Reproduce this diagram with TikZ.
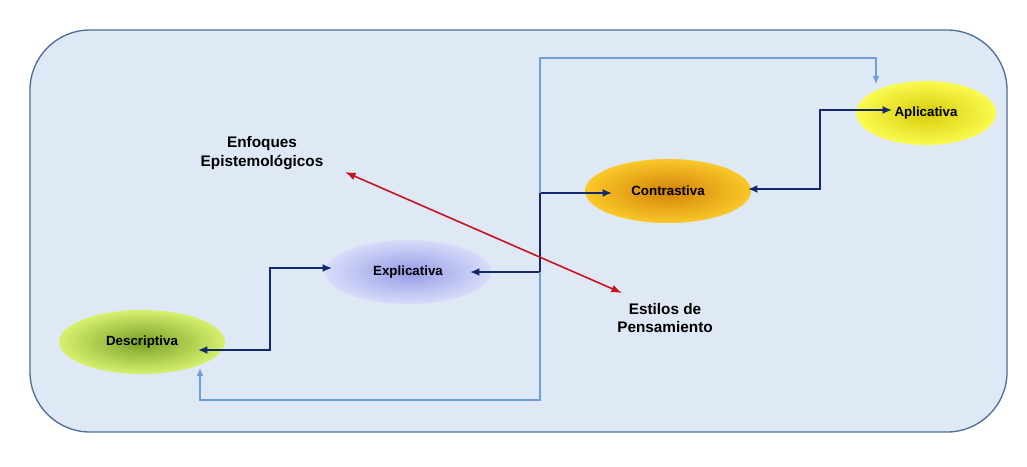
\documentclass[tikz,border=0pt]{standalone}
\usepackage{fontspec}
\setmainfont{Liberation Sans}
\usetikzlibrary{arrows.meta,shapes.geometric}
\begin{document}
\begin{tikzpicture}[x=0.75pt,y=-0.75pt,
 el/.style={ellipse,minimum width=166pt*0.75,minimum height=64pt*0.75,font=\bfseries\fontsize{10}{12}\selectfont,inner sep=0pt},
 conn/.style={draw={rgb,255:red,20;green,40;blue,110},line width=1.4pt,{Latex[length=7pt,width=6pt]}-{Latex[length=7pt,width=6pt]}},
 thin/.style={draw={rgb,255:red,110;green,160;blue,215},line width=0.9pt},
 lbl/.style={font=\bfseries\fontsize{11.5}{14}\selectfont,align=center}]
\useasboundingbox (0,0) rectangle (1027,467);
\draw[fill={rgb,255:red,222;green,233;blue,245},draw={rgb,255:red,80;green,110;blue,150},line width=1pt,rounded corners=45pt] (30,30) rectangle (1007,432);
\node[el,shading=radial,inner color={rgb,255:red,120;green,160;blue,40},outer color={rgb,255:red,215;green,240;blue,110}] (des) at (142,342) {Descriptiva};
\node[el,shading=radial,inner color={rgb,255:red,150;green,155;blue,230},outer color={rgb,255:red,215;green,220;blue,250}] (exp) at (408,272) {Explicativa};
\node[el,shading=radial,inner color={rgb,255:red,210;green,130;blue,10},outer color={rgb,255:red,250;green,200;blue,40}] (con) at (668,191) {Contrastiva};
\node[el,minimum width=140pt*0.75,shading=radial,inner color={rgb,255:red,215;green,205;blue,10},outer color={rgb,255:red,250;green,250;blue,80}] (apl) at (926,113) {Aplicativa};
\coordinate (e1) at (198,350);
\coordinate (e2) at (332,268);
\coordinate (e3) at (470,272);
\coordinate (e4) at (612,193);
\coordinate (e5) at (748,189);
\coordinate (e6) at (892,110);
\coordinate (j1) at (270,310);
\coordinate (j2) at (540,232);
\coordinate (j3) at (820,150);
\draw[conn] (e1) -| (j1) |- (e2);
\draw[conn] (e3) -| (j2) |- (e4);
\draw[conn] (e5) -| (j3) |- (e6);
\coordinate (b1) at (540,400);
\coordinate (t1) at (540,58);
\coordinate (d1) at (200,368);
\coordinate (a1) at (876,84);
\draw[thin,-{Latex[length=6pt,width=5pt]}] (j2|-e3) -- (b1) -| (d1);
\draw[thin,-{Latex[length=6pt,width=5pt]}] (j2|-e4) -- (t1) -| (a1);
\node[lbl] (enf) at (262,153) {Enfoques\\Epistemológicos};
\node[lbl] (est) at (665,318) {Estilos de\\Pensamiento};
\coordinate (r1) at (345,172);
\coordinate (r2) at (622,293);
\draw[draw={rgb,255:red,200;green,20;blue,30},line width=1.2pt,{Latex[length=8pt,width=6pt]}-{Latex[length=8pt,width=6pt]}] (r1) -- (r2);
\end{tikzpicture}
\end{document}
